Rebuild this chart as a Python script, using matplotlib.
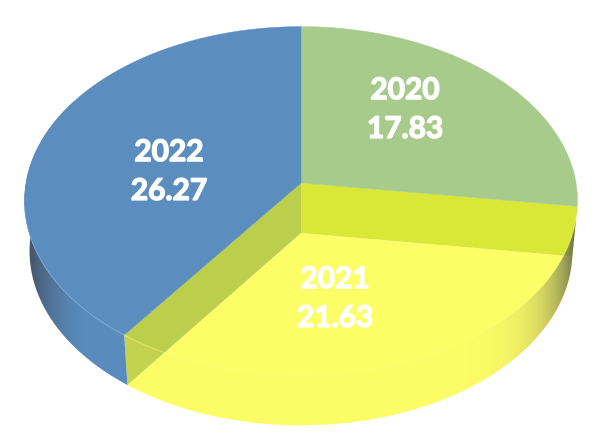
import matplotlib
matplotlib.use("Agg")
import matplotlib.pyplot as plt
from matplotlib.patches import Polygon
import matplotlib.patheffects as pe
import numpy as np

# Data
years = ["2020", "2021", "2022"]
values = [17.83, 21.63, 26.27]

# pie projection, fitted to the picture (pixels)
CX = 301
TOP_CY, TOP_A = 183, 275
LOW_CY, LOW_A = 233, 270
B = 172.5
K = 0.103

label_pos = {"2020": (405, 109.5), "2021": (335, 298.5), "2022": (169, 171.5)}


def project(theta, r=1.0, low=False):
    # theta in degrees, clockwise from 12 o'clock
    t = np.radians(theta)
    u = r * np.sin(t)
    v = r * np.cos(t)
    d = 1 + K * v
    a = LOW_A if low else TOP_A
    cy = LOW_CY if low else TOP_CY
    return np.column_stack([CX + a * u / d, cy - B * v / d])


def arc(start, end, low=False):
    th = np.append(np.arange(start, end, 0.5), end)
    return project(th, low=low)


def sector(start, end, low=False):
    centre = project(np.array([0.0]), r=0.0, low=low)
    return np.vstack([centre, arc(start, end, low)])


def wall(start, end):
    return np.vstack([arc(start, end), arc(start, end, low=True)[::-1]])


def inner_wall(theta):
    t = np.array([float(theta)])
    c0 = project(t, r=0.0)[0]
    c1 = project(t, r=0.0, low=True)[0]
    return [c0, project(t)[0], project(t, low=True)[0], c1]


def gradient_wall(ax, poly, base, dark, shade, alpha):
    # horizontal colour ramp clipped to the wall outline
    x = np.arange(610) + 0.5
    img = np.zeros((1, 610, 4))
    s = shade(x)
    for i in range(3):
        img[0, :, i] = base[i] * (1 - s) + dark[i] * s
    img[0, :, 3] = alpha(s)
    im = ax.imshow(img, extent=(0, 610, 445, 0), aspect="auto", interpolation="bilinear", zorder=2)
    patch = Polygon(poly, fc="none", ec="none", transform=ax.transData)
    ax.add_patch(patch)
    im.set_clip_path(patch)


shares = np.cumsum(values) / np.sum(values) * 360
a1, a2 = shares[0], shares[1]

fig = plt.figure(figsize=(6.1, 4.45), dpi=100)
ax = fig.add_axes([0, 0, 1, 1])

# sunken 2021 floor
ax.add_patch(Polygon(sector(a1, a2, low=True), fc="#fdfd66", ec="none", zorder=1))

# inner walls left open by the sunken slice
ax.add_patch(Polygon(inner_wall(a1), fc="#d9e836", ec="none", zorder=1))
ax.add_patch(Polygon(inner_wall(a2), fc="#bccf4d", ec="none", zorder=1))

# see-through 2021 outer wall, goes grey towards the right edge
gradient_wall(ax, wall(a1, a2), (0.99, 0.98, 0.42), (0.30, 0.32, 0.30),
              lambda x: np.clip((x - 440) / 135, 0, 1) ** 2.4,
              lambda s: 0.12 + 0.66 * s)

# 2022 outer wall
gradient_wall(ax, wall(a2, 300), (0.35, 0.55, 0.74), (0.27, 0.32, 0.40),
              lambda x: np.clip((95 - x) / 67, 0, 1) ** 2.0,
              lambda s: 1.0 + 0 * s)

# top faces
ax.add_patch(Polygon(sector(0, a1), fc="#a6cb8b", ec="#a6cb8b", lw=0.3, zorder=3))
ax.add_patch(Polygon(sector(a2, 360), fc="#5b8dbf", ec="#5b8dbf", lw=0.3, zorder=3))

# light rim along the blue edge and faint seam through the yellow
rim = arc(a2, 262)
ax.plot(rim[:, 0], rim[:, 1], color="#7fb0e0", lw=0.7, alpha=0.7, zorder=4)
seam = arc(a1 + 3, a2)
ax.plot(seam[:, 0], seam[:, 1], color="#ffff80", lw=0.7, alpha=0.5, zorder=4)

# labels
for year, val in zip(years, values):
    x, y = label_pos[year]
    ax.text(x, y, f"{year}\n{val:.2f}", color="white", family="Lato", weight="bold",
            fontsize=21.5, ha="center", va="center", linespacing=1.47, zorder=5,
            path_effects=[pe.withStroke(linewidth=1.0, foreground="white")])

ax.set_xlim(0, 610)
ax.set_ylim(445, 0)
ax.axis("off")

fig.savefig("out.png", dpi=100)
